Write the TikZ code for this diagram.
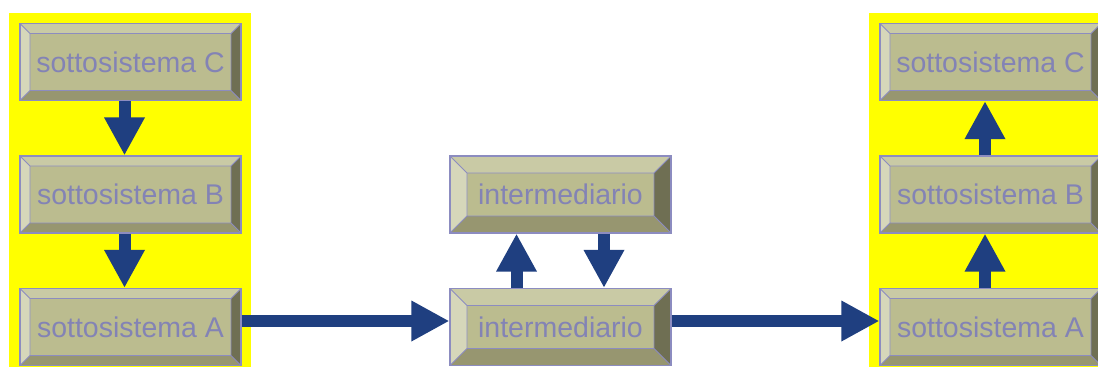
\documentclass[tikz,border=0pt]{standalone}
\usepackage{fontspec}
\setmainfont{Liberation Sans}
\usetikzlibrary{arrows.meta}
\definecolor{panel}{HTML}{FFFF00}
\definecolor{face}{HTML}{BBBC8F}
\definecolor{bevtop}{HTML}{C9CAA5}
\definecolor{bevleft}{HTML}{D6D7BA}
\definecolor{bevbottom}{HTML}{979670}
\definecolor{bevright}{HTML}{6F6F53}
\definecolor{edge}{HTML}{8C8CC0}
\definecolor{label}{HTML}{8383B5}
\definecolor{flowblue}{HTML}{1F3F80}

\tikzset{
  bevel/.store in=\bevsize, bevel=10pt,
  box/.style={draw=edge, line width=1.2pt, fill=face, text=label,
    minimum width=221pt, minimum height=77pt, inner sep=0pt,
    font=\fontsize{28.5}{34}\selectfont,
    path picture={
      \coordinate (nw) at (path picture bounding box.north west);
      \coordinate (ne) at (path picture bounding box.north east);
      \coordinate (sw) at (path picture bounding box.south west);
      \coordinate (se) at (path picture bounding box.south east);
      \coordinate (inw) at ([shift={(\bevsize,-\bevsize)}]nw);
      \coordinate (ine) at ([shift={(-\bevsize,-\bevsize)}]ne);
      \coordinate (isw) at ([shift={(\bevsize,\bevsize)}]sw);
      \coordinate (ise) at ([shift={(-\bevsize,\bevsize)}]se);
      \fill[bevtop] (nw) -- (ne) -- (ine) -- (inw) -- cycle;
      \fill[bevleft] (nw) -- (inw) -- (isw) -- (sw) -- cycle;
      \fill[bevbottom] (sw) -- (isw) -- (ise) -- (se) -- cycle;
      \fill[bevright] (ne) -- (se) -- (ise) -- (ine) -- cycle;
      \draw[edge, line width=0.8pt] (inw) rectangle (ise)
        (nw) -- (inw) (ne) -- (ine) (sw) -- (isw) (se) -- (ise);
    }},
  flow/.style={draw=flowblue, line width=12pt,
    -{Triangle[length=38pt,width=38pt]}}
}

\begin{document}
\begin{tikzpicture}[x=1pt,y=-1pt]
  \useasboundingbox (0,0) rectangle (1098,367);

  % yellow backgrounds of the two systems
  \fill[panel] (9,13) rectangle (251,367);
  \fill[panel] (869,13) rectangle (1098,367);

  % sending side
  \node[box] (lC) at (130.5,62) {sottosistema C};
  \node[box] (lB) at (130.5,194.5) {sottosistema B};
  \node[box] (lA) at (130.5,327) {sottosistema A};

  % the two intermediaries
  \node[box,bevel=17pt] (mTop) at (560.5,194.5) {intermediario};
  \node[box,bevel=17pt] (mBot) at (560.5,327) {intermediario};

  % receiving side
  \node[box] (rC) at (990.5,62) {sottosistema C};
  \node[box] (rB) at (990.5,194.5) {sottosistema B};
  \node[box] (rA) at (990.5,327) {sottosistema A};

  \draw[flow] ([xshift=-6pt]lC.south) -- ([xshift=-6pt]lB.north);
  \draw[flow] ([xshift=-6pt]lB.south) -- ([xshift=-6pt]lA.north);
  \draw[flow] ([yshift=6pt]lA.east) -- ([yshift=6pt]mBot.west);
  \draw[flow] ([xshift=-44pt]mBot.north) -- ([xshift=-44pt]mTop.south);
  \draw[flow] ([xshift=43.5pt]mTop.south) -- ([xshift=43.5pt]mBot.north);
  \draw[flow] ([yshift=6pt]mBot.east) -- ([yshift=6pt]rA.west);
  \draw[flow] ([xshift=-5.5pt]rA.north) -- ([xshift=-5.5pt]rB.south);
  \draw[flow] ([xshift=-5.5pt]rB.north) -- ([xshift=-5.5pt]rC.south);
\end{tikzpicture}
\end{document}
